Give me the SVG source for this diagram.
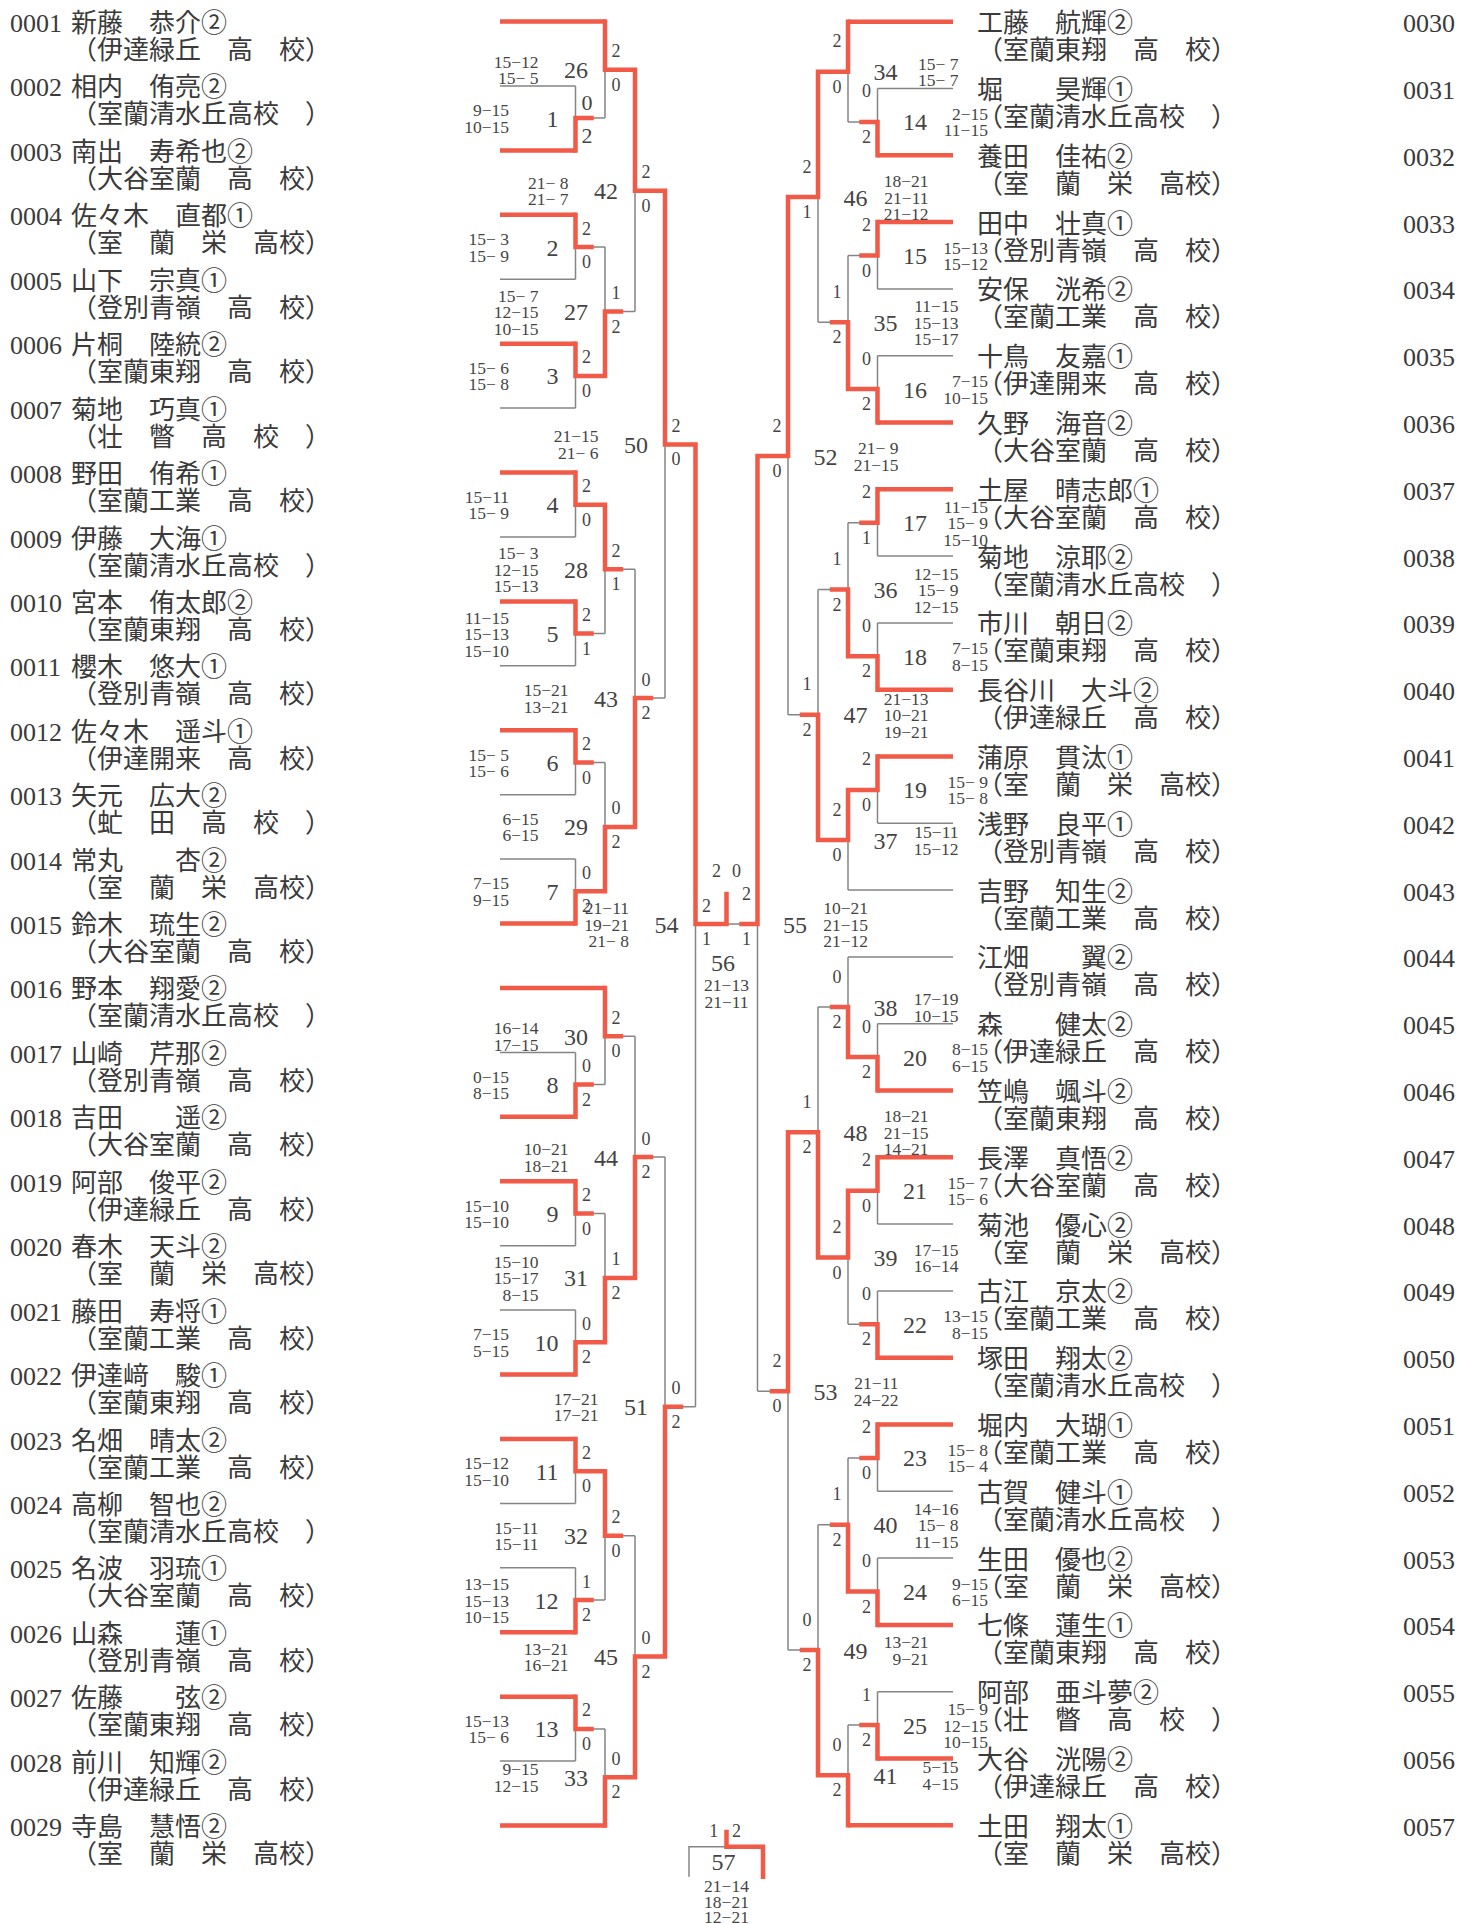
<svg xmlns="http://www.w3.org/2000/svg" width="1459" height="1924" viewBox="0 0 1459 1924" xml:space="preserve">
<style>
.r{fill:none;stroke:#F05A47;stroke-width:4.5;stroke-linecap:square;stroke-linejoin:miter}
.rb{fill:none;stroke:#F05A47;stroke-width:4.5;stroke-linecap:butt}
.g{fill:none;stroke:#858585;stroke-width:1.5}
text{font-family:"Liberation Serif","Noto Sans CJK JP",serif;fill:#3a3a3a}
.t{font-size:26px}
.n{font-size:24px;fill:#444}
.e{text-anchor:end}
.m{text-anchor:middle}
.l{font-size:18px;text-anchor:middle;fill:#444}
.s{font-size:17.5px;text-anchor:end;fill:#444}
.sm{font-size:17.5px;text-anchor:middle;fill:#444}
</style>
<rect width="1459" height="1924" fill="#fff"/>
<g id="connectors">
<path class="g" d="M500 85.9H575.5M500 279.2H575.5M500 408.1H575.5M500 537H575.5M500 665.8H575.5M500 794.7H575.5M500 859.1H575.5M500 1052.4H575.5M500 1245.7H575.5M500 1310.1H575.5M500 1503.4H575.5M500 1567.8H575.5M500 1761.1H575.5
M575.5 85.9V118.1M575.5 247V279.2M575.5 375.9V408.1M575.5 504.8V537M575.5 633.6V665.8M575.5 762.5V794.7M575.5 859.1V891.3M575.5 1052.4V1084.6M575.5 1213.5V1245.7M575.5 1310.1V1342.3M575.5 1471.2V1503.4M575.5 1567.8V1600.1M575.5 1728.9V1761.1
M591.5 118.1H605M591.5 247H605M591.5 633.6H605M591.5 762.5H605M591.5 1084.6H605M591.5 1213.5H605M591.5 1600.1H605M591.5 1728.9H605
M605 69.8V118.1M605 247V311.5M605 569.2V633.6M605 762.5V826.9M605 1036.3V1084.6M605 1213.5V1277.9M605 1535.7V1600.1M605 1728.9V1777.2
M621 311.5H635M621 569.2H635M621 1036.3H635M621 1535.7H635
M635 190.7V311.5M635 569.2V698.1M635 1036.3V1157.1M635 1535.7V1656.5
M651 698.1H665M651 1157.1H665M665 444.4V698.1M665 1157.1V1406.8M681 1406.8H695.5M695.5 924V1406.8M741.5 924H726.5
M689 1876.7V1846.7H726.5
M877.5 88.5H953M877.5 288.9H953M877.5 355.7H953M877.5 556.1H953M877.5 622.9H953M877.5 823.3H953M877.5 1023.7H953M877.5 1224.1H953M877.5 1290.9H953M877.5 1491.3H953M877.5 1558.1H953M877.5 1691.7H953M848 890.1H953M848 956.9H953
M877.5 88.5V121.9M877.5 255.5V288.9M877.5 355.7V389.1M877.5 522.7V556.1M877.5 622.9V656.3M877.5 789.9V823.3M877.5 1023.7V1057.1M877.5 1190.7V1224.1M877.5 1290.9V1324.3M877.5 1457.9V1491.3M877.5 1558.1V1591.5M877.5 1691.7V1725.1
M861.5 121.9H848M861.5 255.5H848M861.5 522.7H848M861.5 1324.3H848M861.5 1457.9H848M861.5 1725.1H848
M848 71.8V121.9M848 255.5V322.3M848 522.7V589.5M848 840V890.1M848 956.9V1007M848 1257.5V1324.3M848 1457.9V1524.7M848 1725.1V1775.2
M832 322.3H818M832 589.5H818M832 1007H818M832 1524.7H818
M818 197.1V322.3M818 589.5V714.8M818 1007V1132.3M818 1524.7V1650
M802 714.8H788M802 1650H788M788 456V714.8M788 1391.2V1650M772 1391.2H757.5M757.5 924V1391.2"/>
<path class="rb" d="M500 21.5H605M500 150.4H575.5M500 214.8H575.5M500 343.7H575.5M500 472.5H575.5M500 601.4H575.5M500 730.2H575.5M500 923.5H575.5M500 987.9H605M500 1116.8H575.5M500 1181.2H575.5M500 1374.5H575.5M500 1439H575.5M500 1632.3H575.5M500 1696.7H575.5M500 1825.5H605
M953 21.7H848M953 155.3H877.5M953 222.1H877.5M953 422.5H877.5M953 489.3H877.5M953 689.7H877.5M953 756.5H877.5M953 1090.5H877.5M953 1157.3H877.5M953 1357.7H877.5M953 1424.5H877.5M953 1624.9H877.5M953 1758.5H877.5M953 1825.3H848"/>
<path class="r" d="M575.5 118.1V150.4M575.5 214.8V247M575.5 343.7V375.9M575.5 472.5V504.8M575.5 601.4V633.6M575.5 730.2V762.5M575.5 891.3V923.5M575.5 1084.6V1116.8M575.5 1181.2V1213.5M575.5 1342.3V1374.5M575.5 1439V1471.2M575.5 1600.1V1632.3M575.5 1696.7V1728.9
M575.5 118.1H591.5M575.5 247H591.5M575.5 633.6H591.5M575.5 762.5H591.5M575.5 1084.6H591.5M575.5 1213.5H591.5M575.5 1600.1H591.5M575.5 1728.9H591.5
M575.5 375.9H605M575.5 504.8H605M575.5 891.3H605M575.5 1342.3H605M575.5 1471.2H605
M605 21.5V69.8M605 311.5V375.9M605 504.8V569.2M605 826.9V891.3M605 987.9V1036.3M605 1277.9V1342.3M605 1471.2V1535.7M605 1777.2V1825.5
M605 69.8H635M605 826.9H635M605 1277.9H635M605 1777.2H635M605 311.5H621M605 569.2H621M605 1036.3H621M605 1535.7H621
M635 69.8V190.7M635 698.1V826.9M635 1157.1V1277.9M635 1656.5V1777.2
M635 190.7H665M635 1656.5H665M635 698.1H651M635 1157.1H651
M665 190.7V444.4M665 1406.8V1656.5M665 444.4H695.5M665 1406.8H681
M695.5 444.4V924H726.5V894M757.5 456V924H741.5
M877.5 121.9V155.3M877.5 222.1V255.5M877.5 389.1V422.5M877.5 489.3V522.7M877.5 656.3V689.7M877.5 756.5V789.9M877.5 1057.1V1090.5M877.5 1157.3V1190.7M877.5 1324.3V1357.7M877.5 1424.5V1457.9M877.5 1591.5V1624.9M877.5 1725.1V1758.5
M877.5 121.9H861.5M877.5 255.5H861.5M877.5 522.7H861.5M877.5 1324.3H861.5M877.5 1457.9H861.5M877.5 1725.1H861.5
M877.5 389.1H848M877.5 656.3H848M877.5 789.9H848M877.5 1057.1H848M877.5 1190.7H848M877.5 1591.5H848
M848 21.7V71.8M848 322.3V389.1M848 589.5V656.3M848 789.9V840M848 1007V1057.1M848 1190.7V1257.5M848 1524.7V1591.5M848 1775.2V1825.3
M848 71.8H818M848 840H818M848 1257.5H818M848 1775.2H818M848 322.3H832M848 589.5H832M848 1007H832M848 1524.7H832
M818 71.8V197.1M818 714.8V840M818 1132.3V1257.5M818 1650V1775.2
M818 197.1H788M818 1132.3H788M818 714.8H802M818 1650H802
M788 197.1V456M788 1132.3V1391.2M788 456H757.5M788 1391.2H772
M726.5 1832V1846.7H763V1876.7"/>
</g>
<g id="players-left" class="t">
<g id="p0001"><text x="10" y="32">0001</text><text x="71" y="32">新藤　恭介②</text><text x="71" y="59">（伊達緑丘　高　校）</text></g>
<g id="p0002"><text x="10" y="96.4">0002</text><text x="71" y="96.4">相内　侑亮②</text><text x="71" y="123.4">（室蘭清水丘高校　）</text></g>
<g id="p0003"><text x="10" y="160.9">0003</text><text x="71" y="160.9">南出　寿希也②</text><text x="71" y="187.9">（大谷室蘭　高　校）</text></g>
<g id="p0004"><text x="10" y="225.3">0004</text><text x="71" y="225.3">佐々木　直都①</text><text x="71" y="252.3">（室　蘭　栄　高校）</text></g>
<g id="p0005"><text x="10" y="289.7">0005</text><text x="71" y="289.7">山下　宗真①</text><text x="71" y="316.7">（登別青嶺　高　校）</text></g>
<g id="p0006"><text x="10" y="354.2">0006</text><text x="71" y="354.2">片桐　陸統②</text><text x="71" y="381.2">（室蘭東翔　高　校）</text></g>
<g id="p0007"><text x="10" y="418.6">0007</text><text x="71" y="418.6">菊地　巧真①</text><text x="71" y="445.6">（壮　瞥　高　校　）</text></g>
<g id="p0008"><text x="10" y="483">0008</text><text x="71" y="483">野田　侑希①</text><text x="71" y="510">（室蘭工業　高　校）</text></g>
<g id="p0009"><text x="10" y="547.5">0009</text><text x="71" y="547.5">伊藤　大海①</text><text x="71" y="574.5">（室蘭清水丘高校　）</text></g>
<g id="p0010"><text x="10" y="611.9">0010</text><text x="71" y="611.9">宮本　侑太郎②</text><text x="71" y="638.9">（室蘭東翔　高　校）</text></g>
<g id="p0011"><text x="10" y="676.3">0011</text><text x="71" y="676.3">櫻木　悠大①</text><text x="71" y="703.3">（登別青嶺　高　校）</text></g>
<g id="p0012"><text x="10" y="740.7">0012</text><text x="71" y="740.7">佐々木　遥斗①</text><text x="71" y="767.7">（伊達開来　高　校）</text></g>
<g id="p0013"><text x="10" y="805.2">0013</text><text x="71" y="805.2">矢元　広大②</text><text x="71" y="832.2">（虻　田　高　校　）</text></g>
<g id="p0014"><text x="10" y="869.6">0014</text><text x="71" y="869.6">常丸　　杏②</text><text x="71" y="896.6">（室　蘭　栄　高校）</text></g>
<g id="p0015"><text x="10" y="934">0015</text><text x="71" y="934">鈴木　琉生②</text><text x="71" y="961">（大谷室蘭　高　校）</text></g>
<g id="p0016"><text x="10" y="998.4">0016</text><text x="71" y="998.4">野本　翔愛②</text><text x="71" y="1025.4">（室蘭清水丘高校　）</text></g>
<g id="p0017"><text x="10" y="1062.9">0017</text><text x="71" y="1062.9">山崎　芹那②</text><text x="71" y="1089.9">（登別青嶺　高　校）</text></g>
<g id="p0018"><text x="10" y="1127.3">0018</text><text x="71" y="1127.3">吉田　　遥②</text><text x="71" y="1154.3">（大谷室蘭　高　校）</text></g>
<g id="p0019"><text x="10" y="1191.7">0019</text><text x="71" y="1191.7">阿部　俊平②</text><text x="71" y="1218.7">（伊達緑丘　高　校）</text></g>
<g id="p0020"><text x="10" y="1256.2">0020</text><text x="71" y="1256.2">春木　天斗②</text><text x="71" y="1283.2">（室　蘭　栄　高校）</text></g>
<g id="p0021"><text x="10" y="1320.6">0021</text><text x="71" y="1320.6">藤田　寿将①</text><text x="71" y="1347.6">（室蘭工業　高　校）</text></g>
<g id="p0022"><text x="10" y="1385">0022</text><text x="71" y="1385">伊達﨑　駿①</text><text x="71" y="1412">（室蘭東翔　高　校）</text></g>
<g id="p0023"><text x="10" y="1449.5">0023</text><text x="71" y="1449.5">名畑　晴太②</text><text x="71" y="1476.5">（室蘭工業　高　校）</text></g>
<g id="p0024"><text x="10" y="1513.9">0024</text><text x="71" y="1513.9">高柳　智也②</text><text x="71" y="1540.9">（室蘭清水丘高校　）</text></g>
<g id="p0025"><text x="10" y="1578.3">0025</text><text x="71" y="1578.3">名波　羽琉①</text><text x="71" y="1605.3">（大谷室蘭　高　校）</text></g>
<g id="p0026"><text x="10" y="1642.8">0026</text><text x="71" y="1642.8">山森　　蓮①</text><text x="71" y="1669.8">（登別青嶺　高　校）</text></g>
<g id="p0027"><text x="10" y="1707.2">0027</text><text x="71" y="1707.2">佐藤　　弦②</text><text x="71" y="1734.2">（室蘭東翔　高　校）</text></g>
<g id="p0028"><text x="10" y="1771.6">0028</text><text x="71" y="1771.6">前川　知輝②</text><text x="71" y="1798.6">（伊達緑丘　高　校）</text></g>
<g id="p0029"><text x="10" y="1836">0029</text><text x="71" y="1836">寺島　慧悟②</text><text x="71" y="1863">（室　蘭　栄　高校）</text></g>
</g>
<g id="players-right" class="t">
<g id="p0030"><text x="977" y="32.2">工藤　航輝②</text><text x="977" y="59.2">（室蘭東翔　高　校）</text><text x="1403" y="32.2">0030</text></g>
<g id="p0031"><text x="977" y="99">堀　　昊輝①</text><text x="977" y="126">（室蘭清水丘高校　）</text><text x="1403" y="99">0031</text></g>
<g id="p0032"><text x="977" y="165.8">養田　佳祐②</text><text x="977" y="192.8">（室　蘭　栄　高校）</text><text x="1403" y="165.8">0032</text></g>
<g id="p0033"><text x="977" y="232.6">田中　壮真①</text><text x="977" y="259.6">（登別青嶺　高　校）</text><text x="1403" y="232.6">0033</text></g>
<g id="p0034"><text x="977" y="299.4">安保　洸希②</text><text x="977" y="326.4">（室蘭工業　高　校）</text><text x="1403" y="299.4">0034</text></g>
<g id="p0035"><text x="977" y="366.2">十鳥　友嘉①</text><text x="977" y="393.2">（伊達開来　高　校）</text><text x="1403" y="366.2">0035</text></g>
<g id="p0036"><text x="977" y="433">久野　海音②</text><text x="977" y="460">（大谷室蘭　高　校）</text><text x="1403" y="433">0036</text></g>
<g id="p0037"><text x="977" y="499.8">土屋　晴志郎①</text><text x="977" y="526.8">（大谷室蘭　高　校）</text><text x="1403" y="499.8">0037</text></g>
<g id="p0038"><text x="977" y="566.6">菊地　涼耶②</text><text x="977" y="593.6">（室蘭清水丘高校　）</text><text x="1403" y="566.6">0038</text></g>
<g id="p0039"><text x="977" y="633.4">市川　朝日②</text><text x="977" y="660.4">（室蘭東翔　高　校）</text><text x="1403" y="633.4">0039</text></g>
<g id="p0040"><text x="977" y="700.2">長谷川　大斗②</text><text x="977" y="727.2">（伊達緑丘　高　校）</text><text x="1403" y="700.2">0040</text></g>
<g id="p0041"><text x="977" y="767">蒲原　貫汰①</text><text x="977" y="794">（室　蘭　栄　高校）</text><text x="1403" y="767">0041</text></g>
<g id="p0042"><text x="977" y="833.8">浅野　良平①</text><text x="977" y="860.8">（登別青嶺　高　校）</text><text x="1403" y="833.8">0042</text></g>
<g id="p0043"><text x="977" y="900.6">吉野　知生②</text><text x="977" y="927.6">（室蘭工業　高　校）</text><text x="1403" y="900.6">0043</text></g>
<g id="p0044"><text x="977" y="967.4">江畑　　翼②</text><text x="977" y="994.4">（登別青嶺　高　校）</text><text x="1403" y="967.4">0044</text></g>
<g id="p0045"><text x="977" y="1034.2">森　　健太②</text><text x="977" y="1061.2">（伊達緑丘　高　校）</text><text x="1403" y="1034.2">0045</text></g>
<g id="p0046"><text x="977" y="1101">笠嶋　颯斗②</text><text x="977" y="1128">（室蘭東翔　高　校）</text><text x="1403" y="1101">0046</text></g>
<g id="p0047"><text x="977" y="1167.8">長澤　真悟②</text><text x="977" y="1194.8">（大谷室蘭　高　校）</text><text x="1403" y="1167.8">0047</text></g>
<g id="p0048"><text x="977" y="1234.6">菊池　優心②</text><text x="977" y="1261.6">（室　蘭　栄　高校）</text><text x="1403" y="1234.6">0048</text></g>
<g id="p0049"><text x="977" y="1301.4">古江　京太②</text><text x="977" y="1328.4">（室蘭工業　高　校）</text><text x="1403" y="1301.4">0049</text></g>
<g id="p0050"><text x="977" y="1368.2">塚田　翔太②</text><text x="977" y="1395.2">（室蘭清水丘高校　）</text><text x="1403" y="1368.2">0050</text></g>
<g id="p0051"><text x="977" y="1435">堀内　大瑚①</text><text x="977" y="1462">（室蘭工業　高　校）</text><text x="1403" y="1435">0051</text></g>
<g id="p0052"><text x="977" y="1501.8">古賀　健斗①</text><text x="977" y="1528.8">（室蘭清水丘高校　）</text><text x="1403" y="1501.8">0052</text></g>
<g id="p0053"><text x="977" y="1568.6">生田　優也②</text><text x="977" y="1595.6">（室　蘭　栄　高校）</text><text x="1403" y="1568.6">0053</text></g>
<g id="p0054"><text x="977" y="1635.4">七條　蓮生①</text><text x="977" y="1662.4">（室蘭東翔　高　校）</text><text x="1403" y="1635.4">0054</text></g>
<g id="p0055"><text x="977" y="1702.2">阿部　亜斗夢②</text><text x="977" y="1729.2">（壮　瞥　高　校　）</text><text x="1403" y="1702.2">0055</text></g>
<g id="p0056"><text x="977" y="1769">大谷　洸陽②</text><text x="977" y="1796">（伊達緑丘　高　校）</text><text x="1403" y="1769">0056</text></g>
<g id="p0057"><text x="977" y="1835.8">土田　翔太①</text><text x="977" y="1862.8">（室　蘭　栄　高校）</text><text x="1403" y="1835.8">0057</text></g>
</g>
<g id="matches-left">
<g id="m1"><text class="n e" x="558.5" y="126.6">1</text><text class="l" x="587" y="110" style="font-size:22px">0</text><text class="l" x="587" y="143" style="font-size:22px">2</text><text class="s" x="509" y="116.1">9−15</text><text class="s" x="509" y="132.6">10−15</text></g>
<g id="m2"><text class="n e" x="558.5" y="255.5">2</text><text class="l" x="586.5" y="234.5">2</text><text class="l" x="586.5" y="268">0</text><text class="s" x="509" y="245">15−  3</text><text class="s" x="509" y="261.5">15−  9</text></g>
<g id="m3"><text class="n e" x="558.5" y="384.4">3</text><text class="l" x="586.5" y="363.4">2</text><text class="l" x="586.5" y="396.9">0</text><text class="s" x="509" y="373.9">15−  6</text><text class="s" x="509" y="390.4">15−  8</text></g>
<g id="m4"><text class="n e" x="558.5" y="513.3">4</text><text class="l" x="586.5" y="492.3">2</text><text class="l" x="586.5" y="525.8">0</text><text class="s" x="509" y="502.8">15−11</text><text class="s" x="509" y="519.3">15−  9</text></g>
<g id="m5"><text class="n e" x="558.5" y="642.1">5</text><text class="l" x="586.5" y="621.1">2</text><text class="l" x="586.5" y="654.6">1</text><text class="s" x="509" y="623.6">11−15</text><text class="s" x="509" y="640.1">15−13</text><text class="s" x="509" y="656.6">15−10</text></g>
<g id="m6"><text class="n e" x="558.5" y="771">6</text><text class="l" x="586.5" y="750">2</text><text class="l" x="586.5" y="783.5">0</text><text class="s" x="509" y="760.5">15−  5</text><text class="s" x="509" y="777">15−  6</text></g>
<g id="m7"><text class="n e" x="558.5" y="899.8">7</text><text class="l" x="586.5" y="878.8">0</text><text class="l" x="586.5" y="912.3">2</text><text class="s" x="509" y="889.3">7−15</text><text class="s" x="509" y="905.8">9−15</text></g>
<g id="m8"><text class="n e" x="558.5" y="1093.1">8</text><text class="l" x="586.5" y="1072.1">0</text><text class="l" x="586.5" y="1105.6">2</text><text class="s" x="509" y="1082.6">0−15</text><text class="s" x="509" y="1099.1">8−15</text></g>
<g id="m9"><text class="n e" x="558.5" y="1222">9</text><text class="l" x="586.5" y="1201">2</text><text class="l" x="586.5" y="1234.5">0</text><text class="s" x="509" y="1211.5">15−10</text><text class="s" x="509" y="1228">15−10</text></g>
<g id="m10"><text class="n e" x="558.5" y="1350.8">10</text><text class="l" x="586.5" y="1329.8">0</text><text class="l" x="586.5" y="1363.3">2</text><text class="s" x="509" y="1340.3">7−15</text><text class="s" x="509" y="1356.8">5−15</text></g>
<g id="m11"><text class="n e" x="558.5" y="1479.7">11</text><text class="l" x="586.5" y="1458.7">2</text><text class="l" x="586.5" y="1492.2">0</text><text class="s" x="509" y="1469.2">15−12</text><text class="s" x="509" y="1485.7">15−10</text></g>
<g id="m12"><text class="n e" x="558.5" y="1608.6">12</text><text class="l" x="586.5" y="1587.6">1</text><text class="l" x="586.5" y="1621.1">2</text><text class="s" x="509" y="1590.1">13−15</text><text class="s" x="509" y="1606.6">15−13</text><text class="s" x="509" y="1623.1">10−15</text></g>
<g id="m13"><text class="n e" x="558.5" y="1737.4">13</text><text class="l" x="586.5" y="1716.4">2</text><text class="l" x="586.5" y="1749.9">0</text><text class="s" x="509" y="1726.9">15−13</text><text class="s" x="509" y="1743.4">15−  6</text></g>
<g id="m26"><text class="n e" x="588" y="78.3">26</text><text class="l" x="616" y="57.3">2</text><text class="l" x="616" y="90.8">0</text><text class="s" x="538.5" y="67.8">15−12</text><text class="s" x="538.5" y="84.3">15−  5</text></g>
<g id="m27"><text class="n e" x="588" y="320">27</text><text class="l" x="616" y="299">1</text><text class="l" x="616" y="332.5">2</text><text class="s" x="538.5" y="301.5">15−  7</text><text class="s" x="538.5" y="318">12−15</text><text class="s" x="538.5" y="334.5">10−15</text></g>
<g id="m28"><text class="n e" x="588" y="577.7">28</text><text class="l" x="616" y="556.7">2</text><text class="l" x="616" y="590.2">1</text><text class="s" x="538.5" y="559.2">15−  3</text><text class="s" x="538.5" y="575.7">12−15</text><text class="s" x="538.5" y="592.2">15−13</text></g>
<g id="m29"><text class="n e" x="588" y="835.4">29</text><text class="l" x="616" y="814.4">0</text><text class="l" x="616" y="847.9">2</text><text class="s" x="538.5" y="824.9">6−15</text><text class="s" x="538.5" y="841.4">6−15</text></g>
<g id="m30"><text class="n e" x="588" y="1044.8">30</text><text class="l" x="616" y="1023.8">2</text><text class="l" x="616" y="1057.3">0</text><text class="s" x="538.5" y="1034.3">16−14</text><text class="s" x="538.5" y="1050.8">17−15</text></g>
<g id="m31"><text class="n e" x="588" y="1286.4">31</text><text class="l" x="616" y="1265.4">1</text><text class="l" x="616" y="1298.9">2</text><text class="s" x="538.5" y="1267.9">15−10</text><text class="s" x="538.5" y="1284.4">15−17</text><text class="s" x="538.5" y="1300.9">8−15</text></g>
<g id="m32"><text class="n e" x="588" y="1544.2">32</text><text class="l" x="616" y="1523.2">2</text><text class="l" x="616" y="1556.7">0</text><text class="s" x="538.5" y="1533.7">15−11</text><text class="s" x="538.5" y="1550.2">15−11</text></g>
<g id="m33"><text class="n e" x="588" y="1785.7">33</text><text class="l" x="616" y="1764.7">0</text><text class="l" x="616" y="1798.2">2</text><text class="s" x="538.5" y="1775.2">9−15</text><text class="s" x="538.5" y="1791.7">12−15</text></g>
<g id="m42"><text class="n e" x="618" y="199.2">42</text><text class="l" x="646" y="178.2">2</text><text class="l" x="646" y="211.7">0</text><text class="s" x="568.5" y="188.7">21−  8</text><text class="s" x="568.5" y="205.2">21−  7</text></g>
<g id="m43"><text class="n e" x="618" y="706.6">43</text><text class="l" x="646" y="685.6">0</text><text class="l" x="646" y="719.1">2</text><text class="s" x="568.5" y="696.1">15−21</text><text class="s" x="568.5" y="712.6">13−21</text></g>
<g id="m44"><text class="n e" x="618" y="1165.6">44</text><text class="l" x="646" y="1144.6">0</text><text class="l" x="646" y="1178.1">2</text><text class="s" x="568.5" y="1155.1">10−21</text><text class="s" x="568.5" y="1171.6">18−21</text></g>
<g id="m45"><text class="n e" x="618" y="1665">45</text><text class="l" x="646" y="1644">0</text><text class="l" x="646" y="1677.5">2</text><text class="s" x="568.5" y="1654.5">13−21</text><text class="s" x="568.5" y="1671">16−21</text></g>
<g id="m50"><text class="n e" x="648" y="452.9">50</text><text class="l" x="676" y="431.9">2</text><text class="l" x="676" y="465.4">0</text><text class="s" x="598.5" y="442.4">21−15</text><text class="s" x="598.5" y="458.9">21−  6</text></g>
<g id="m51"><text class="n e" x="648" y="1415.3">51</text><text class="l" x="676" y="1394.3">0</text><text class="l" x="676" y="1427.8">2</text><text class="s" x="598.5" y="1404.8">17−21</text><text class="s" x="598.5" y="1421.3">17−21</text></g>
<g id="m54"><text class="n e" x="678.5" y="932.5">54</text><text class="l" x="706.5" y="911.5">2</text><text class="l" x="706.5" y="945">1</text><text class="s" x="629" y="914">21−11</text><text class="s" x="629" y="930.5">19−21</text><text class="s" x="629" y="947">21−  8</text></g>
</g>
<g id="matches-right">
<g id="m14"><text class="n" x="903" y="130.4">14</text><text class="l" x="866.5" y="97.4">0</text><text class="l" x="866.5" y="142.9">2</text><text class="s" x="988" y="119.9">2−15</text><text class="s" x="988" y="136.4">11−15</text></g>
<g id="m15"><text class="n" x="903" y="264">15</text><text class="l" x="866.5" y="231">2</text><text class="l" x="866.5" y="276.5">0</text><text class="s" x="988" y="253.5">15−13</text><text class="s" x="988" y="270">15−12</text></g>
<g id="m16"><text class="n" x="903" y="397.6">16</text><text class="l" x="866.5" y="364.6">0</text><text class="l" x="866.5" y="410.1">2</text><text class="s" x="988" y="387.1">7−15</text><text class="s" x="988" y="403.6">10−15</text></g>
<g id="m17"><text class="n" x="903" y="531.2">17</text><text class="l" x="866.5" y="498.2">2</text><text class="l" x="866.5" y="543.7">1</text><text class="s" x="988" y="512.7">11−15</text><text class="s" x="988" y="529.2">15−  9</text><text class="s" x="988" y="545.7">15−10</text></g>
<g id="m18"><text class="n" x="903" y="664.8">18</text><text class="l" x="866.5" y="631.8">0</text><text class="l" x="866.5" y="677.3">2</text><text class="s" x="988" y="654.3">7−15</text><text class="s" x="988" y="670.8">8−15</text></g>
<g id="m19"><text class="n" x="903" y="798.4">19</text><text class="l" x="866.5" y="765.4">2</text><text class="l" x="866.5" y="810.9">0</text><text class="s" x="988" y="787.9">15−  9</text><text class="s" x="988" y="804.4">15−  8</text></g>
<g id="m20"><text class="n" x="903" y="1065.6">20</text><text class="l" x="866.5" y="1032.6">0</text><text class="l" x="866.5" y="1078.1">2</text><text class="s" x="988" y="1055.1">8−15</text><text class="s" x="988" y="1071.6">6−15</text></g>
<g id="m21"><text class="n" x="903" y="1199.2">21</text><text class="l" x="866.5" y="1166.2">2</text><text class="l" x="866.5" y="1211.7">0</text><text class="s" x="988" y="1188.7">15−  7</text><text class="s" x="988" y="1205.2">15−  6</text></g>
<g id="m22"><text class="n" x="903" y="1332.8">22</text><text class="l" x="866.5" y="1299.8">0</text><text class="l" x="866.5" y="1345.3">2</text><text class="s" x="988" y="1322.3">13−15</text><text class="s" x="988" y="1338.8">8−15</text></g>
<g id="m23"><text class="n" x="903" y="1466.4">23</text><text class="l" x="866.5" y="1433.4">2</text><text class="l" x="866.5" y="1478.9">0</text><text class="s" x="988" y="1455.9">15−  8</text><text class="s" x="988" y="1472.4">15−  4</text></g>
<g id="m24"><text class="n" x="903" y="1600">24</text><text class="l" x="866.5" y="1567">0</text><text class="l" x="866.5" y="1612.5">2</text><text class="s" x="988" y="1589.5">9−15</text><text class="s" x="988" y="1606">6−15</text></g>
<g id="m25"><text class="n" x="903" y="1733.6">25</text><text class="l" x="866.5" y="1700.6">1</text><text class="l" x="866.5" y="1746.1">2</text><text class="s" x="988" y="1715.1">15−  9</text><text class="s" x="988" y="1731.6">12−15</text><text class="s" x="988" y="1748.1">10−15</text></g>
<g id="m34"><text class="n" x="873.5" y="80.3">34</text><text class="l" x="837" y="47.3">2</text><text class="l" x="837" y="92.8">0</text><text class="s" x="958.5" y="69.8">15−  7</text><text class="s" x="958.5" y="86.3">15−  7</text></g>
<g id="m35"><text class="n" x="873.5" y="330.8">35</text><text class="l" x="837" y="297.8">1</text><text class="l" x="837" y="343.3">2</text><text class="s" x="958.5" y="312.3">11−15</text><text class="s" x="958.5" y="328.8">15−13</text><text class="s" x="958.5" y="345.3">15−17</text></g>
<g id="m36"><text class="n" x="873.5" y="598">36</text><text class="l" x="837" y="565">1</text><text class="l" x="837" y="610.5">2</text><text class="s" x="958.5" y="579.5">12−15</text><text class="s" x="958.5" y="596">15−  9</text><text class="s" x="958.5" y="612.5">12−15</text></g>
<g id="m37"><text class="n" x="873.5" y="848.5">37</text><text class="l" x="837" y="815.5">2</text><text class="l" x="837" y="861">0</text><text class="s" x="958.5" y="838">15−11</text><text class="s" x="958.5" y="854.5">15−12</text></g>
<g id="m38"><text class="n" x="873.5" y="1015.5">38</text><text class="l" x="837" y="982.5">0</text><text class="l" x="837" y="1028">2</text><text class="s" x="958.5" y="1005">17−19</text><text class="s" x="958.5" y="1021.5">10−15</text></g>
<g id="m39"><text class="n" x="873.5" y="1266">39</text><text class="l" x="837" y="1233">2</text><text class="l" x="837" y="1278.5">0</text><text class="s" x="958.5" y="1255.5">17−15</text><text class="s" x="958.5" y="1272">16−14</text></g>
<g id="m40"><text class="n" x="873.5" y="1533.2">40</text><text class="l" x="837" y="1500.2">1</text><text class="l" x="837" y="1545.7">2</text><text class="s" x="958.5" y="1514.7">14−16</text><text class="s" x="958.5" y="1531.2">15−  8</text><text class="s" x="958.5" y="1547.7">11−15</text></g>
<g id="m41"><text class="n" x="873.5" y="1783.7">41</text><text class="l" x="837" y="1750.7">0</text><text class="l" x="837" y="1796.2">2</text><text class="s" x="958.5" y="1773.2">5−15</text><text class="s" x="958.5" y="1789.7">4−15</text></g>
<g id="m46"><text class="n" x="843.5" y="205.6">46</text><text class="l" x="807" y="172.6">2</text><text class="l" x="807" y="218.1">1</text><text class="s" x="928.5" y="187.1">18−21</text><text class="s" x="928.5" y="203.6">21−11</text><text class="s" x="928.5" y="220.1">21−12</text></g>
<g id="m47"><text class="n" x="843.5" y="723.3">47</text><text class="l" x="807" y="690.3">1</text><text class="l" x="807" y="735.8">2</text><text class="s" x="928.5" y="704.8">21−13</text><text class="s" x="928.5" y="721.3">10−21</text><text class="s" x="928.5" y="737.8">19−21</text></g>
<g id="m48"><text class="n" x="843.5" y="1140.8">48</text><text class="l" x="807" y="1107.8">1</text><text class="l" x="807" y="1153.3">2</text><text class="s" x="928.5" y="1122.3">18−21</text><text class="s" x="928.5" y="1138.8">21−15</text><text class="s" x="928.5" y="1155.3">14−21</text></g>
<g id="m49"><text class="n" x="843.5" y="1658.5">49</text><text class="l" x="807" y="1625.5">0</text><text class="l" x="807" y="1671">2</text><text class="s" x="928.5" y="1648">13−21</text><text class="s" x="928.5" y="1664.5">9−21</text></g>
<g id="m52"><text class="n" x="813.5" y="464.5">52</text><text class="l" x="777" y="431.5">2</text><text class="l" x="777" y="477">0</text><text class="s" x="898.5" y="454">21−  9</text><text class="s" x="898.5" y="470.5">21−15</text></g>
<g id="m53"><text class="n" x="813.5" y="1399.7">53</text><text class="l" x="777" y="1366.7">2</text><text class="l" x="777" y="1412.2">0</text><text class="s" x="898.5" y="1389.2">21−11</text><text class="s" x="898.5" y="1405.7">24−22</text></g>
<g id="m55"><text class="n" x="783" y="932.5">55</text><text class="l" x="746.5" y="899.5">2</text><text class="l" x="746.5" y="945">1</text><text class="s" x="868" y="914">10−21</text><text class="s" x="868" y="930.5">21−15</text><text class="s" x="868" y="947">21−12</text></g>
</g>
<g id="m56"><text class="n m" x="723" y="971">56</text><text class="l" x="716.5" y="877">2</text><text class="l" x="736.5" y="877">0</text><text class="sm" x="726.5" y="991">21−13</text><text class="sm" x="726.5" y="1007.5">21−11</text></g>
<g id="m57"><text class="n m" x="723.4" y="1870">57</text><text class="l" x="713.8" y="1837">1</text><text class="l" x="736.5" y="1837">2</text><text class="sm" x="726.5" y="1892">21−14</text><text class="sm" x="726.5" y="1908">18−21</text><text class="sm" x="726.5" y="1923">12−21</text></g>
</svg>
